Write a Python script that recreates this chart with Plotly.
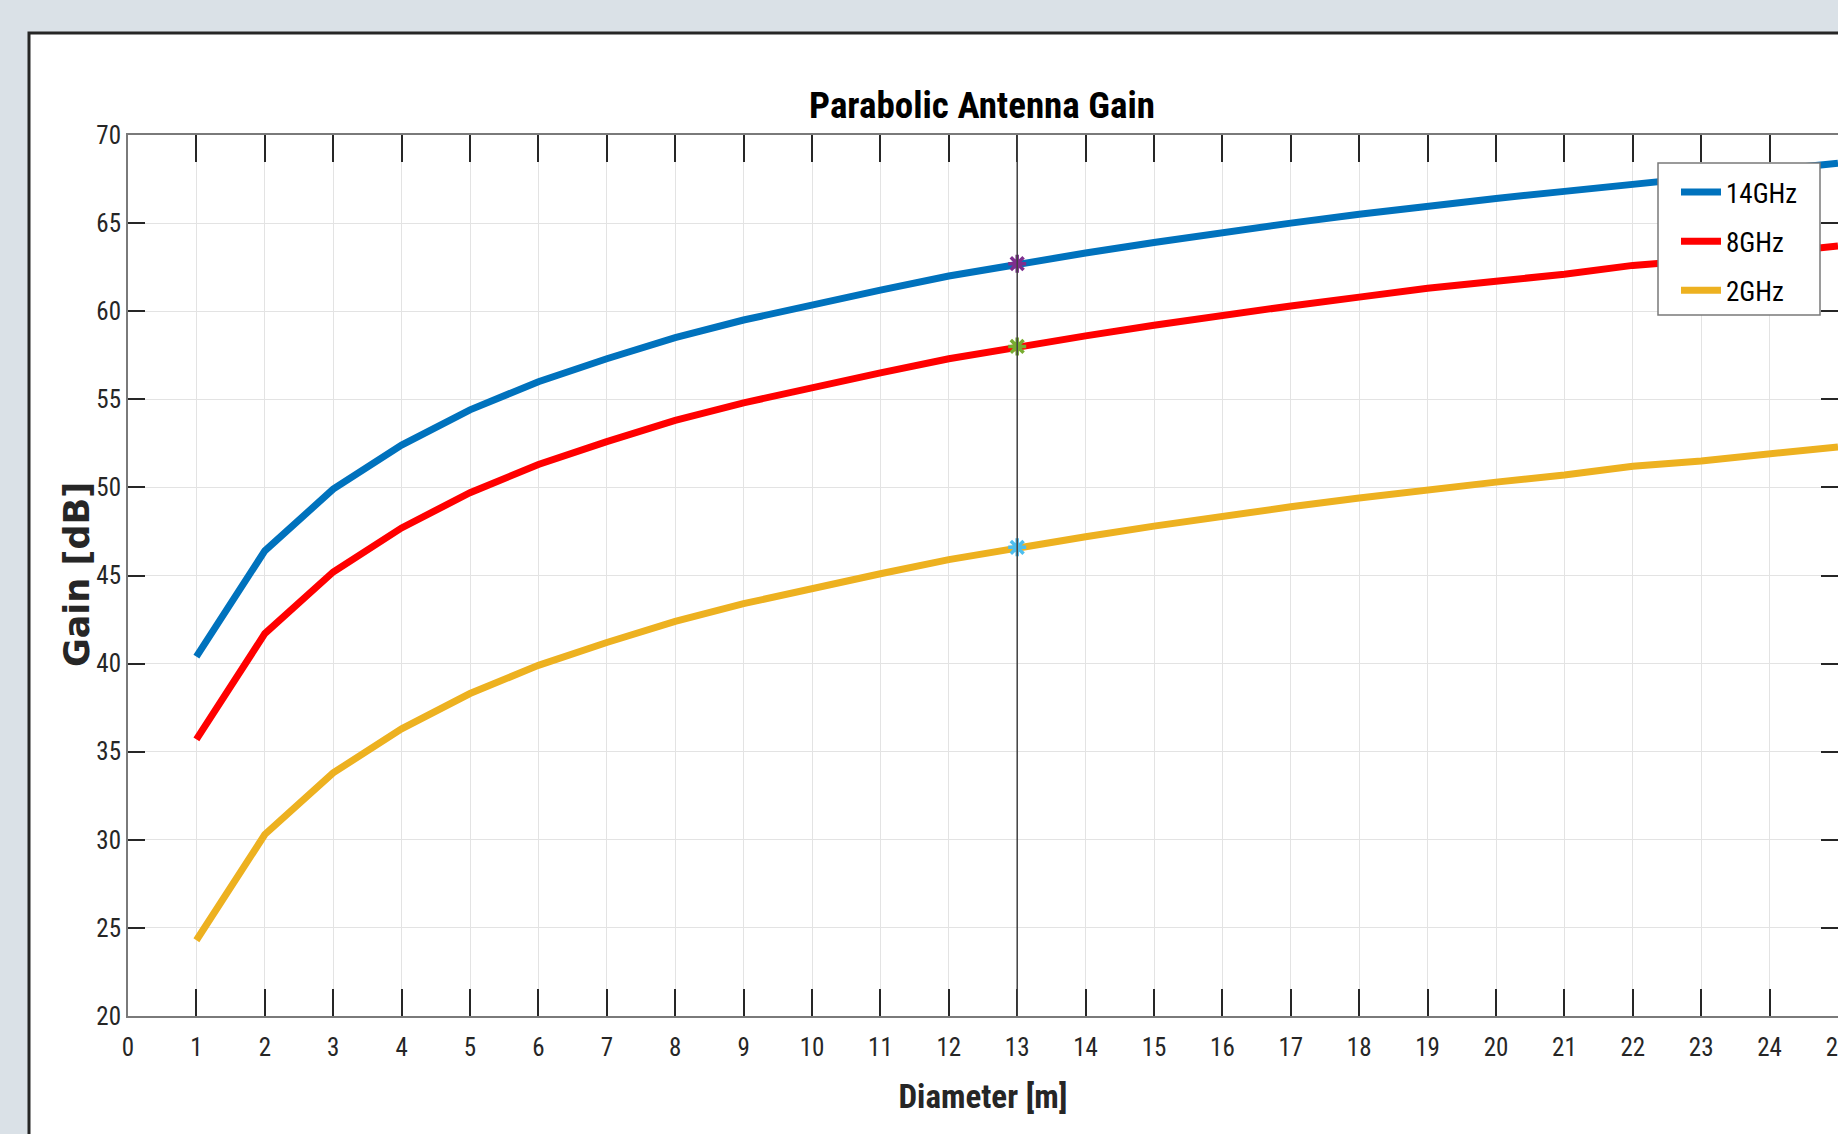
import plotly.graph_objects as go

# ---- data ----
diameter = list(range(1, 26))
gain_14ghz = [40.4, 46.4, 49.9, 52.4, 54.4, 56.0, 57.3, 58.5, 59.5, 60.4, 61.2, 62.0, 62.7,
              63.3, 63.9, 64.5, 65.0, 65.5, 66.0, 66.4, 66.8, 67.2, 67.6, 68.0, 68.4]
gain_8ghz = [35.7, 41.7, 45.2, 47.7, 49.7, 51.3, 52.6, 53.8, 54.8, 55.7, 56.5, 57.3, 58.0,
             58.6, 59.2, 59.8, 60.3, 60.8, 61.3, 61.7, 62.1, 62.6, 62.9, 63.3, 63.7]
gain_2ghz = [24.3, 30.3, 33.8, 36.3, 38.3, 39.9, 41.2, 42.4, 43.4, 44.3, 45.1, 45.9, 46.6,
             47.2, 47.8, 48.4, 48.9, 49.4, 49.9, 50.3, 50.7, 51.2, 51.5, 51.9, 52.3]
series_names = ["14GHz", "8GHz", "2GHz"]
series_colors = ["#0072BD", "#FF0000", "#EDB120"]
marker_colors = ["#7E2F8E", "#77AC30", "#4DBEEE"]
cursor_d = 13
x_ticks = list(range(0, 26))
y_ticks = list(range(20, 75, 5))

NARROW = "Liberation Sans Narrow, Arial Narrow, Roboto Condensed, Liberation Sans, Arial"
PAGE_BG = "#DAE1E7"

OFF = 0  # body margin removed by post_script below
W, H = 1838 - OFF, 1134 - OFF
ML, MT, MR = 128 - OFF, 135 - OFF, 0
MB = H - (1016 - OFF)
PW, PH = W - ML - MR, H - MT - MB


def px_x(px):  # reference pixel -> paper x
    return (px - OFF - ML) / PW


def px_y(py):  # reference pixel -> paper y
    return (H - MB - (py - OFF)) / PH


fig = go.Figure()
all_gain = [gain_14ghz, gain_8ghz, gain_2ghz]
for name, col, g in zip(series_names, series_colors, all_gain):
    fig.add_trace(go.Scatter(x=diameter, y=g, mode="lines", name=name,
                             legendgroup=name,
                             line=dict(color=col, width=7)))
for name, mcol, g in zip(series_names, marker_colors, all_gain):
    idx = diameter.index(cursor_d)
    fig.add_trace(go.Scatter(x=[cursor_d], y=[g[idx]], mode="markers", showlegend=False,
                             hoverinfo="skip",
                             marker=dict(symbol="asterisk-open", size=15, color=mcol,
                                         line=dict(color=mcol, width=3.5))))

fig.add_vline(x=cursor_d, line=dict(color="#404040", width=1.5), layer="above")

# white panel with dark border
fig.add_shape(type="rect", xref="paper", yref="paper", layer="below",
              x0=px_x(29), x1=px_x(1838 + 40),
              y0=px_y(1134 + 40), y1=px_y(33),
              fillcolor="white", line=dict(color="#262626", width=3))

# legend box (drawn above the curves)
fig.add_shape(type="rect", xref="paper", yref="paper", layer="above",
              x0=px_x(1658), x1=px_x(1820), y0=px_y(315), y1=px_y(163),
              fillcolor="white", line=dict(color="#7a7a7a", width=1.5))

axis_common = dict(showgrid=True, gridcolor="#e3e3e3", gridwidth=1,
                   showline=True, linecolor="#7a7a7a", linewidth=2,
                   ticks="inside", tickcolor="#262626", tickwidth=1.5,
                   mirror="ticks", zeroline=False, automargin=False,
                   tickfont=dict(family=NARROW, size=25, color="#262626"))

fig.update_xaxes(range=[0, 25], tickvals=x_ticks, ticklen=27, ticklabelstandoff=8,
                 ticklabeloverflow="allow",
                 **axis_common,
                 title=dict(text="<b>Diameter [m]</b>", standoff=24,
                            font=dict(family=NARROW, size=33, color="#262626")))
fig.update_yaxes(range=[20, 70], tickvals=y_ticks, ticklen=17, **axis_common)

fig.add_annotation(text="<b>Gain [dB]</b>", xref="paper", yref="paper",
                   x=px_x(77), y=px_y(575), xanchor="center", yanchor="middle",
                   textangle=-90, showarrow=False,
                   font=dict(family="DejaVu Sans", size=35, color="#262626"))

fig.update_layout(
    width=W, height=H,
    margin=dict(l=ML, r=MR, t=MT, b=MB, pad=0, autoexpand=False),
    paper_bgcolor=PAGE_BG, plot_bgcolor="white",
    title=dict(text="<b>Parabolic Antenna Gain</b>", x=(982 - OFF) / W,
               xanchor="center", y=1 - (105 - OFF) / H, yanchor="middle",
               font=dict(family=NARROW, size=37, color="black")),
    legend=dict(x=px_x(1676), xanchor="left", y=px_y(168), yanchor="top",
                bgcolor="rgba(0,0,0,0)", borderwidth=0,
                font=dict(family=NARROW, size=27, color="black"),
                tracegroupgap=11, itemwidth=40),
    showlegend=True,
)

fig.write_html("out.html",
               config={"displayModeBar": False},
               post_script="document.body.style.margin='0px';"
                           "document.documentElement.style.overflow='hidden';"
                           "document.body.style.background='%s';"
                           "document.documentElement.style.background='%s';" % (PAGE_BG, PAGE_BG))
